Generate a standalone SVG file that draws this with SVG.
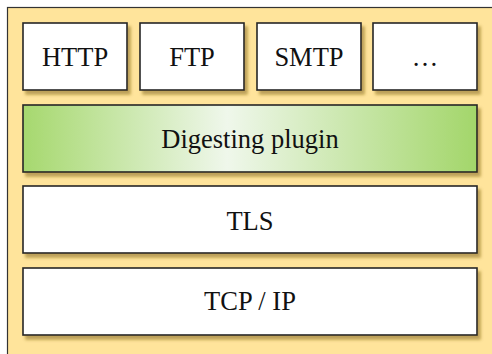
<svg xmlns="http://www.w3.org/2000/svg" width="492" height="354" viewBox="0 0 492 354">
  <defs>
    <filter id="shadow" x="-10%" y="-20%" width="130%" height="150%">
      <feGaussianBlur in="SourceAlpha" stdDeviation="1.8"/>
      <feOffset dx="3" dy="4" result="b"/>
      <feFlood flood-color="#7a5d10" flood-opacity="0.5"/>
      <feComposite in2="b" operator="in"/>
      <feMerge>
        <feMergeNode/>
        <feMergeNode in="SourceGraphic"/>
      </feMerge>
    </filter>
    <linearGradient id="greenFade" x1="0" y1="0" x2="1" y2="0">
      <stop offset="0" stop-color="#a6d86e"/>
      <stop offset="0.45" stop-color="#eff7eb"/>
      <stop offset="1" stop-color="#a3d66a"/>
    </linearGradient>
  </defs>
  <style>
    .frame { fill: #ffe49b; stroke: #333333; stroke-width: 1.2; }
    .box { fill: #ffffff; stroke: #262626; stroke-width: 1.6; filter: url(#shadow); }
    .plugin { fill: url(#greenFade); }
    .label { font-family: "Liberation Serif", "Times New Roman", serif; font-size: 26.5px; fill: #111111; text-anchor: middle; }
  </style>

  <rect width="492" height="354" fill="#ffffff"/>
  <rect class="frame" x="7.5" y="7.5" width="490" height="352"/>

  <g id="http">
    <rect class="box" x="23" y="23" width="104" height="67"/>
    <text class="label" x="75" y="65.5">HTTP</text>
  </g>
  <g id="ftp">
    <rect class="box" x="140" y="23" width="104" height="67"/>
    <text class="label" x="192" y="65.5">FTP</text>
  </g>
  <g id="smtp">
    <rect class="box" x="257" y="23" width="104" height="67"/>
    <text class="label" x="309" y="65.5">SMTP</text>
  </g>
  <g id="more">
    <rect class="box" x="373" y="23" width="104" height="67"/>
    <text class="label" x="425" y="65.5">…</text>
  </g>
  <g id="digesting-plugin">
    <rect class="box plugin" x="23" y="105" width="454" height="67"/>
    <text class="label" x="250" y="147.5">Digesting plugin</text>
  </g>
  <g id="tls">
    <rect class="box" x="23" y="186" width="454" height="67"/>
    <text class="label" x="250" y="229.5">TLS</text>
  </g>
  <g id="tcp-ip">
    <rect class="box" x="23" y="268" width="454" height="67"/>
    <text class="label" x="250" y="309.5">TCP / IP</text>
  </g>
  <g id="connectors"/>
</svg>
